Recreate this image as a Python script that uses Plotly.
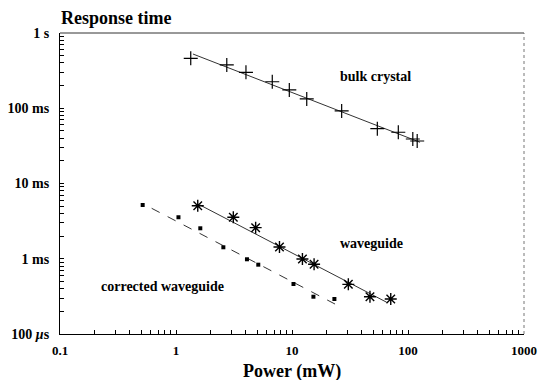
import plotly.graph_objects as go

# ---- data ----
bulk_power = [1.34, 2.74, 4.01, 6.76, 9.48, 13.4, 26.8, 54.4, 82.5, 110, 120]
bulk_time = [0.461, 0.376, 0.30, 0.225, 0.175, 0.133, 0.092, 0.0535, 0.048, 0.039, 0.0367]
bulk_fit_power = [1.4, 127]
bulk_fit_time = [0.526, 0.0353]

wg_power = [1.54, 3.12, 4.86, 7.8, 12.3, 15.5, 30.6, 47, 71]
wg_time = [5.07e-3, 3.56e-3, 2.59e-3, 1.43e-3, 0.993e-3, 0.847e-3, 0.457e-3, 0.313e-3, 0.292e-3]
wg_fit_power = [1.61, 65.5]
wg_fit_time = [5.18e-3, 2.64e-4]

cwg_power = [0.516, 1.05, 1.62, 2.56, 4.09, 5.12, 10.3, 15.3, 23.2]
cwg_time = [5.18e-3, 3.56e-3, 2.54e-3, 1.42e-3, 0.984e-3, 0.834e-3, 0.462e-3, 0.313e-3, 0.292e-3]
cwg_fit_power = [0.617, 23.5]
cwg_fit_time = [4.68e-3, 2.5e-4]

x_ticks = [0.1, 1, 10, 100, 1000]
x_labels = ["0.1", "1", "10", "100", "1000"]
y_ticks = [1e-4, 1e-3, 1e-2, 1e-1, 1]
y_labels = ["100 <i>μ</i>s", "1 ms", "10 ms", "100 ms", "1 s"]

FONT = "Liberation Serif, Times New Roman, serif"

def all_ticks(decades, labels):
    vals, texts = [], []
    for i, d in enumerate(decades):
        vals.append(d); texts.append("<b>%s</b>" % labels[i])
        if i < len(decades) - 1:
            for m in range(2, 10):
                vals.append(d * m); texts.append("")
    return vals, texts

xv, xt = all_ticks(x_ticks, x_labels)
yv, yt = all_ticks(y_ticks, y_labels)

fig = go.Figure()
# fit lines
fig.add_trace(go.Scatter(x=bulk_fit_power, y=bulk_fit_time, mode="lines",
                         line=dict(color="#333", width=1), showlegend=False))
fig.add_trace(go.Scatter(x=wg_fit_power, y=wg_fit_time, mode="lines",
                         line=dict(color="#333", width=1), showlegend=False))
fig.add_trace(go.Scatter(x=cwg_fit_power, y=cwg_fit_time, mode="lines",
                         line=dict(color="#333", width=1, dash="dash"), showlegend=False))
# points
fig.add_trace(go.Scatter(x=bulk_power, y=bulk_time, mode="markers",
                         marker=dict(symbol="cross-thin", size=10,
                                     line=dict(color="black", width=1.2)),
                         showlegend=False))
fig.add_trace(go.Scatter(x=wg_power, y=wg_time, mode="markers",
                         marker=dict(symbol="asterisk", size=10,
                                     line=dict(color="black", width=1.4)),
                         showlegend=False))
fig.add_trace(go.Scatter(x=cwg_power, y=cwg_time, mode="markers",
                         marker=dict(symbol="square", size=4, color="black"),
                         showlegend=False))

axis_common = dict(type="log", showgrid=False, zeroline=False,
                   showline=True, linecolor="black", linewidth=1.2,
                   ticks="inside", ticklen=4, tickcolor="black", tickwidth=1,
                   automargin=False)
fig.update_xaxes(range=[-1, 3], tickmode="array", tickvals=xv, ticktext=xt,
                 ticklabelstandoff=4,
                 tickfont=dict(family=FONT, size=13, color="black"), **axis_common)
fig.update_yaxes(range=[-4, 0], tickmode="array", tickvals=yv, ticktext=yt,
                 ticklabelstandoff=7,
                 tickfont=dict(family=FONT, size=14, color="black"), **axis_common)

# top / right frame
fig.add_shape(type="line", xref="paper", yref="paper", x0=0, x1=1, y0=1, y1=1,
              line=dict(color="#333", width=1))
fig.add_shape(type="line", xref="paper", yref="paper", x0=1, x1=1, y0=0, y1=1,
              line=dict(color="#777", width=1, dash="dot"))

def ann(text, x, y, size):
    fig.add_annotation(text="<b>%s</b>" % text, xref="paper", yref="paper",
                       x=x, y=y, showarrow=False, xanchor="center", yanchor="middle",
                       font=dict(family=FONT, size=size, color="black"))

ann("Response time", 0.121, 1.050, 18)
ann("Power (mW)", 0.5, -0.125, 18)
ann("bulk crystal", 0.679, 0.854, 14)
ann("waveguide", 0.672, 0.302, 14)
ann("corrected waveguide", 0.220, 0.159, 14)

fig.update_layout(width=538, height=380, margin=dict(l=60, r=14, t=33, b=46),
                  paper_bgcolor="white", plot_bgcolor="white")
fig.write_html("out.html", config={"displayModeBar": False},
               post_script="document.body.style.margin='0';")
